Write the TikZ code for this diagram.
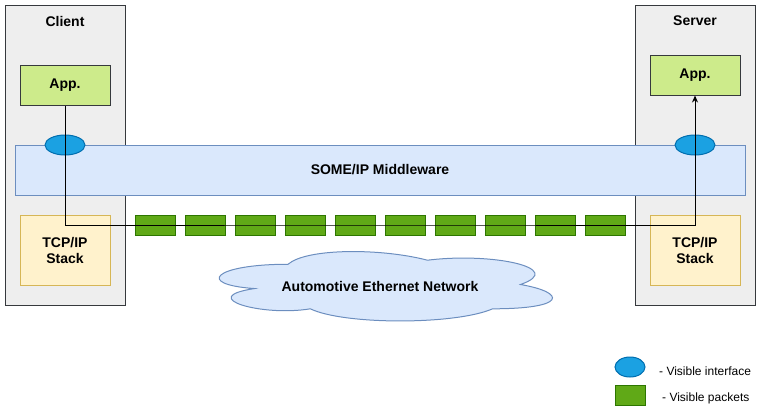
\documentclass[tikz,border=0pt]{standalone}
\usepackage{fontspec}
\setmainfont{Liberation Sans}
\usetikzlibrary{shapes.geometric,arrows.meta}
\definecolor{grayfill}{HTML}{EEEEEE}
\definecolor{graydraw}{HTML}{36393D}
\definecolor{appfill}{HTML}{CDEB8B}
\definecolor{bluefill}{HTML}{DAE8FC}
\definecolor{bluedraw}{HTML}{6C8EBF}
\definecolor{tcpfill}{HTML}{FFF2CC}
\definecolor{tcpdraw}{HTML}{D6B656}
\definecolor{ifill}{HTML}{1BA1E2}
\definecolor{idraw}{HTML}{006EAF}
\definecolor{pfill}{HTML}{60A917}
\definecolor{pdraw}{HTML}{2D7600}
\newcommand{\boldfnt}{\fontsize{14pt}{16pt}\selectfont\bfseries}
\tikzset{
  every node/.style={font=\fontsize{12pt}{14pt}\selectfont},
  hostbox/.style={draw=graydraw,fill=grayfill,line width=1pt,minimum width=120pt,minimum height=300pt,inner sep=0pt},
  appbox/.style={draw=graydraw,fill=appfill,line width=1pt,minimum width=90pt,minimum height=40pt,inner sep=0pt,font=\boldfnt},
  midbox/.style={draw=bluedraw,fill=bluefill,line width=1pt,minimum width=730pt,minimum height=50pt,inner sep=0pt,font=\boldfnt},
  tcpbox/.style={draw=tcpdraw,fill=tcpfill,line width=1pt,minimum width=90pt,minimum height=70pt,inner sep=0pt,align=center,font=\boldfnt},
  iface/.style={ellipse,draw=idraw,fill=ifill,line width=1pt,minimum width=40pt,minimum height=20pt,inner sep=0pt},
  packet/.style={draw=pdraw,fill=pfill,line width=1pt,minimum width=40pt,minimum height=20pt,inner sep=0pt},
  title/.style={font=\boldfnt},
  legtext/.style={anchor=west,inner sep=0pt,font=\fontsize{12pt}{14pt}\selectfont},
  conn/.style={line width=1pt,draw=black}
}
\begin{document}
\begin{tikzpicture}[x=1pt,y=-1pt]
\useasboundingbox (0,0) rectangle (781,418);
% hosts
\node[hostbox] (client) at (65,155) {};
\node[hostbox] (server) at (695,155) {};
\node[title] (clientlbl) at (65,21) {Client};
\node[title] (serverlbl) at (695,21) {Server};
% middleware
\node[midbox] (mw) at (380,170) {SOME/IP Middleware};
% apps
\node[appbox] (appC) at (65,85) {App.};
\node[appbox] (appS) at (695,75) {App.};
% tcp
\node[tcpbox] (tcpC) at (65,250) {TCP/IP\\Stack};
\node[tcpbox] (tcpS) at (695,250) {TCP/IP\\Stack};
% interfaces
\node[iface] (ifC) at (65,145) {};
\node[iface] (ifS) at (695,145) {};
% packets
\foreach \i in {0,...,9} {
  \node[packet] (p\i) at (155+50*\i,225) {};
}
% cloud
\draw[draw=bluedraw,fill=bluefill,line width=1pt]
  (195+0.25*372,244+0.25*81) .. controls (195+0.05*372,244+0.25*81) and (195,244+0.5*81) .. (195+0.16*372,244+0.55*81)
  .. controls (195,244+0.66*81) and (195+0.18*372,244+0.9*81) .. (195+0.31*372,244+0.8*81)
  .. controls (195+0.4*372,244+81) and (195+0.7*372,244+81) .. (195+0.8*372,244+0.8*81)
  .. controls (195+372,244+0.8*81) and (195+372,244+0.6*81) .. (195+0.875*372,244+0.5*81)
  .. controls (195+372,244+0.3*81) and (195+0.8*372,244+0.1*81) .. (195+0.625*372,244+0.2*81)
  .. controls (195+0.5*372,244+0.05*81) and (195+0.3*372,244+0.05*81) .. cycle;
\node[title] (cloud) at (380,286) {Automotive Ethernet Network};
% connector
\coordinate (mid) at (380,225);
\draw[conn,-{Stealth[length=7pt,width=6pt]}] (appC.south) |- (mid) -| (appS.south);
% legend
\node[iface,minimum width=30pt] (legI) at (630,367) {};
\node[packet,minimum width=30pt] (legP) at (630,395) {};
\node[legtext] (legIt) at (659,371) {- Visible interface};
\node[legtext] (legPt) at (662,398) {- Visible packets};
\end{tikzpicture}
\end{document}
